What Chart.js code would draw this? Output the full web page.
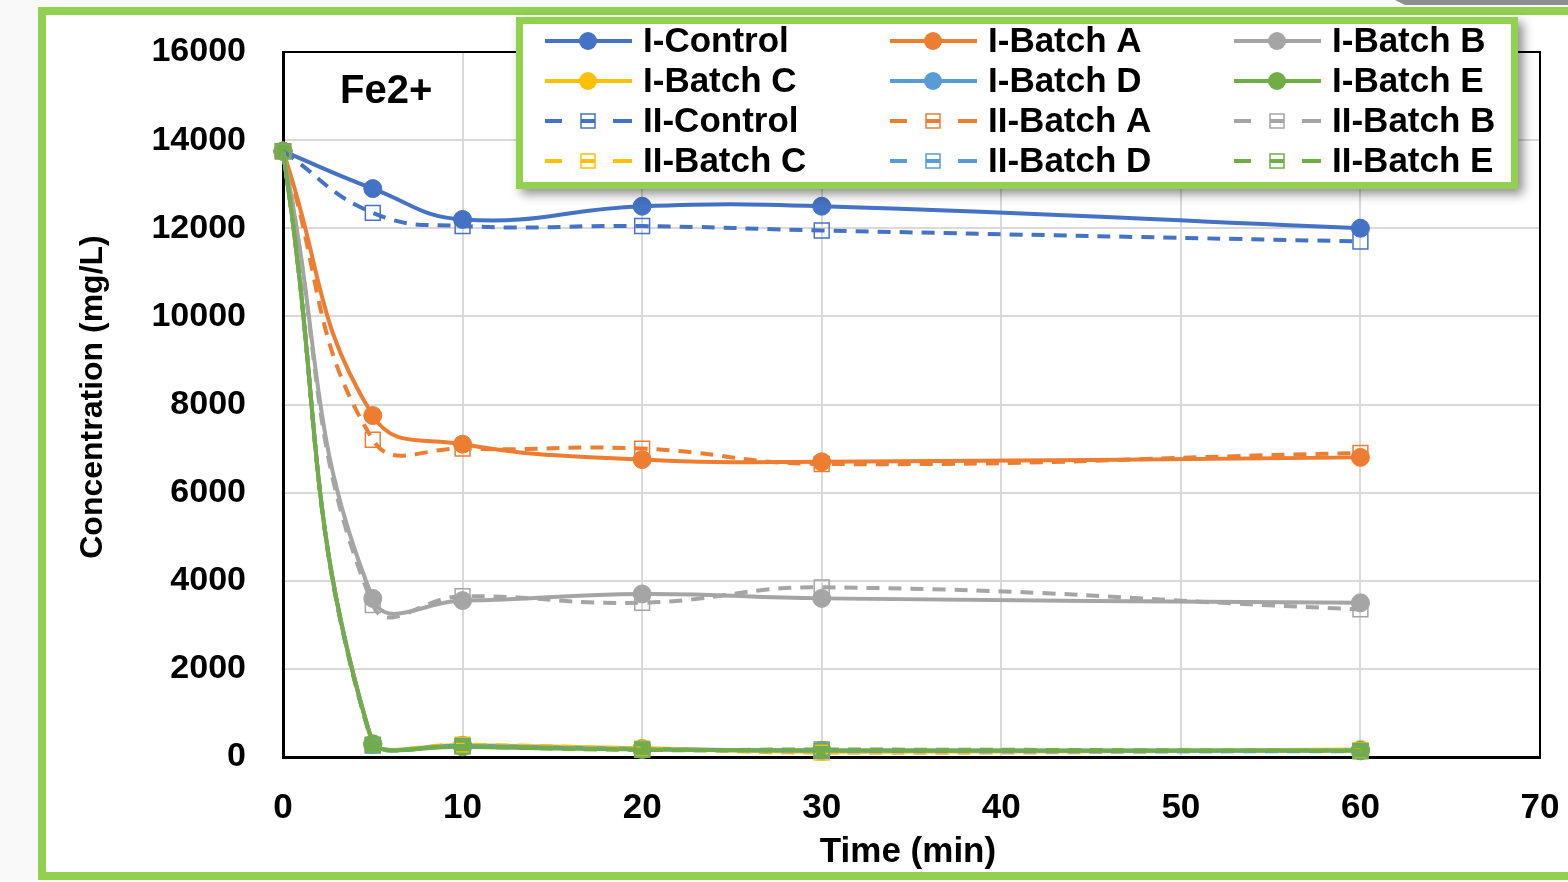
<!DOCTYPE html>
<html>
<head>
<meta charset="utf-8">
<title>Fe2+ concentration</title>
<script src="https://cdn.jsdelivr.net/npm/chart.js@4.4.1/dist/chart.umd.min.js"></script>
<style>
  html, body { margin: 0; padding: 0; background: #f9f9f9; }
  canvas { display: block; }
</style>
</head>
<body>
<canvas id="feChart" width="1568" height="882"></canvas>
<script>
// Sampling times (min) and axis ticks
const times = [0, 5, 10, 20, 30, 60];
const xTicks = [0, 10, 20, 30, 40, 50, 60, 70];
const yTicks = [0, 2000, 4000, 6000, 8000, 10000, 12000, 14000, 16000];

// Fe2+ concentration (mg/L)
const iControl = [13750, 12900, 12200, 12500, 12500, 12000];
const iBatchA  = [13750, 7750, 7100, 6750, 6700, 6800];
const iBatchB  = [13750, 3600, 3550, 3700, 3600, 3500];
const iBatchC  = [13750, 280, 270, 200, 120, 170];
const iBatchD  = [13750, 290, 260, 180, 150, 150];
const iBatchE  = [13750, 300, 230, 170, 150, 140];
const iiControl = [13750, 12350, 12050, 12050, 11950, 11700];
const iiBatchA  = [13750, 7200, 7000, 7000, 6650, 6900];
const iiBatchB  = [13750, 3450, 3650, 3500, 3850, 3350];
const iiBatchC  = [13750, 270, 280, 190, 100, 150];
const iiBatchD  = [13750, 260, 250, 170, 140, 130];
const iiBatchE  = [13750, 280, 240, 160, 170, 140];

const seriesNames = ['I-Control', 'I-Batch A', 'I-Batch B', 'I-Batch C', 'I-Batch D', 'I-Batch E',
                     'II-Control', 'II-Batch A', 'II-Batch B', 'II-Batch C', 'II-Batch D', 'II-Batch E'];
const seriesValues = [iControl, iBatchA, iBatchB, iBatchC, iBatchD, iBatchE,
                      iiControl, iiBatchA, iiBatchB, iiBatchC, iiBatchD, iiBatchE];
const palette = ['#4472C4', '#ED7D31', '#A5A5A5', '#FFC000', '#5B9BD5', '#70AD47'];

const GREEN = '#92D050';
const BOLD = 'bold 35px "Liberation Sans", Arial, sans-serif';

// Build datasets: first six solid with dots, last six dashed with open squares
function buildDatasets() {
    return seriesNames.map((name, i) => {
        const color = palette[i % 6];
        const dashed = i >= 6;
        return {
            label: name,
            data: times.map((t, k) => ({ x: t, y: seriesValues[i][k] })),
            borderColor: color,
            borderWidth: 4,
            borderDash: dashed ? [13, 9] : [],
            tension: 0.45,
            clip: false,
            order: 12 - i,
            pointStyle: dashed ? 'rect' : 'circle',
            pointRadius: dashed ? 10.5 : 9,
            pointBorderWidth: dashed ? 1.5 : 1,
            pointBorderColor: color,
            pointBackgroundColor: dashed ? 'rgba(255,255,255,0)' : color
        };
    });
}

// Green frame, plot border, titles and the boxed legend
const decorPlugin = {
    id: 'decor',
    beforeDraw(chart) {
        const ctx = chart.ctx;
        ctx.save();
        ctx.fillStyle = '#f9f9f9';
        ctx.fillRect(0, 0, chart.width, chart.height);
        ctx.fillStyle = '#8e8e8e';
        ctx.beginPath();
        ctx.moveTo(1395, 0); ctx.lineTo(1568, 0); ctx.lineTo(1568, 5); ctx.lineTo(1405, 5);
        ctx.closePath();
        ctx.fill();
        ctx.fillStyle = '#ffffff';
        ctx.fillRect(42, 11, 1600, 865);
        ctx.strokeStyle = GREEN;
        ctx.lineWidth = 8;
        ctx.strokeRect(42, 11, 1600, 865);
        ctx.restore();
    },
    afterDraw(chart) {
        const ctx = chart.ctx;
        const a = chart.chartArea;
        ctx.save();

        // top and right edges of the plot box
        ctx.strokeStyle = '#000';
        ctx.lineWidth = 2;
        ctx.beginPath();
        ctx.moveTo(a.left, a.top); ctx.lineTo(a.right, a.top); ctx.lineTo(a.right, a.bottom);
        ctx.stroke();

        // text
        ctx.fillStyle = '#000';
        ctx.font = 'bold 40px "Liberation Sans", Arial, sans-serif';
        ctx.textAlign = 'left';
        ctx.textBaseline = 'alphabetic';
        ctx.fillText('Fe2+', 340, 103);

        ctx.font = BOLD;
        ctx.textAlign = 'center';
        ctx.textBaseline = 'middle';
        ctx.fillText('Time (min)', 908, 852);

        ctx.save();
        ctx.translate(93, 397);
        ctx.rotate(-Math.PI / 2);
        ctx.font = 'bold 32px "Liberation Sans", Arial, sans-serif';
        ctx.fillText('Concentration (mg/L)', 0, 0);
        ctx.restore();

        drawLegend(ctx, chart);
        ctx.restore();
    }
};

function drawLegend(ctx, chart) {
    ctx.save();
    ctx.shadowColor = 'rgba(0,0,0,0.45)';
    ctx.shadowBlur = 10;
    ctx.shadowOffsetX = 5;
    ctx.shadowOffsetY = 5;
    ctx.fillStyle = '#fff';
    ctx.fillRect(516, 17, 1002, 172);
    ctx.restore();
    ctx.strokeStyle = GREEN;
    ctx.lineWidth = 7;
    ctx.strokeRect(519.5, 20.5, 995, 165);

    const colX = [545, 890, 1234];
    const rowY = [41, 81, 121, 161];
    chart.data.datasets.forEach((ds, i) => {
        const x0 = colX[i % 3];
        const y = rowY[Math.floor(i / 3)];
        const c = ds.borderColor;
        ctx.strokeStyle = c;
        ctx.lineWidth = 4;
        ctx.setLineDash([]);
        if (i < 6) {
            ctx.beginPath();
            ctx.moveTo(x0, y); ctx.lineTo(x0 + 87, y);
            ctx.stroke();
            ctx.fillStyle = c;
            ctx.beginPath();
            ctx.arc(x0 + 43, y, 9, 0, Math.PI * 2);
            ctx.fill();
        } else {
            ctx.beginPath();
            ctx.moveTo(x0, y); ctx.lineTo(x0 + 17, y);
            ctx.moveTo(x0 + 36, y); ctx.lineTo(x0 + 50, y);
            ctx.moveTo(x0 + 68, y); ctx.lineTo(x0 + 87, y);
            ctx.stroke();
            ctx.lineWidth = 1.5;
            ctx.strokeRect(x0 + 36, y - 7, 14, 14);
        }
        ctx.fillStyle = '#000';
        ctx.font = BOLD;
        ctx.textAlign = 'left';
        ctx.textBaseline = 'middle';
        ctx.fillText(ds.label, x0 + 98, y + 1);
    });
}

function createChart() {
    const ctx = document.getElementById('feChart').getContext('2d');
    new Chart(ctx, {
        type: 'line',
        data: { datasets: buildDatasets() },
        plugins: [decorPlugin],
        options: {
            responsive: false,
            animation: false,
            events: [],
            layout: { padding: { left: 0, top: 52, right: 28, bottom: 0 } },
            plugins: { legend: { display: false }, tooltip: { enabled: false } },
            scales: {
                x: {
                    type: 'linear',
                    min: 0,
                    max: 70,
                    afterFit: (scale) => {
                        scale.height = 125;
                        scale.paddingLeft = 0;
                        scale.paddingRight = 0;
                    },
                    afterBuildTicks: (scale) => { scale.ticks = xTicks.map(v => ({ value: v })); },
                    grid: { color: '#d9d9d9', lineWidth: 2, drawTicks: false },
                    border: { color: '#000', width: 3 },
                    ticks: { color: '#000', padding: 30, callback: (v) => String(v),
                             font: { family: '"Liberation Sans", Arial', size: 35, weight: 'bold' } }
                },
                y: {
                    min: 0,
                    max: 16000,
                    afterFit: (scale) => {
                        scale.width = 283;
                        scale.paddingTop = 0;
                        scale.paddingBottom = 0;
                    },
                    afterBuildTicks: (scale) => { scale.ticks = yTicks.map(v => ({ value: v })); },
                    grid: { color: '#d9d9d9', lineWidth: 2, drawTicks: false },
                    border: { color: '#000', width: 3 },
                    ticks: { color: '#000', padding: 37, callback: (v) => String(v),
                             font: { family: '"Liberation Sans", Arial', size: 34, weight: 'bold' } }
                }
            }
        }
    });
}

createChart();
</script>
</body>
</html>
